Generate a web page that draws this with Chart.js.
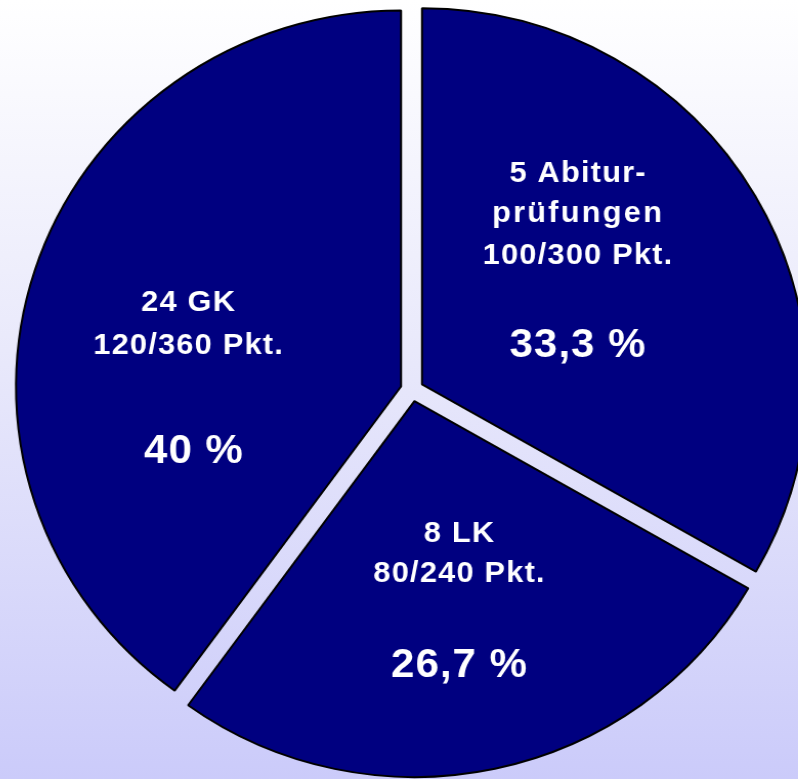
<!DOCTYPE html>
<html>
<head>
<meta charset="utf-8">
<script src="https://cdn.jsdelivr.net/npm/chart.js@4/dist/chart.umd.min.js"></script>
<style>
  html, body { margin: 0; padding: 0; width: 798px; height: 779px; overflow: hidden; }
  body { background: linear-gradient(to bottom, #ffffff 0%, #e9e9fb 45%, #cbcbfa 100%); }
  #c { display: block; transform: scaleX(1.024); transform-origin: 412px 0; }
</style>
</head>
<body>
<canvas id="c" width="798" height="779"></canvas>
<script>
// ---- data ----
const categories = ['5 Abiturprüfungen', '8 LK', '24 GK'];
const shares = [33.3, 26.7, 40];
const labelLines = [
  ['5 Abitur-', 'prüfungen', '100/300 Pkt.'],
  ['8 LK', '80/240 Pkt.'],
  ['24 GK', '120/360 Pkt.']
];
const percentLabels = ['33,3 %', '26,7 %', '40 %'];

// ---- styling / layout ----
const GAP = 11.3;
const NAVY = '#000080';

// text layout per slice: block x offset from pie centre, baselines (dy) of small lines, big line
const textLayout = [
  { dx: 161.6, small: [-208.3, -168.3, -126], spacing: ['1.2px', '2.2px', '1.2px'], bigDx: 161.6, big: -33.3 },
  { dx: 45.9, small: [151.7, 191.7], spacing: ['1.2px', '1.2px'], bigDx: 45.9, big: 286.7 },
  { dx: -218.7, small: [-79, -36], spacing: ['1.2px', '1.2px'], bigDx: -213.4, big: 72.5 }
];

const explodePlugin = {
  id: 'explode',
  beforeDatasetDraw(chart, args) {
    const ctx = chart.ctx;
    args.meta.data.forEach(arc => {
      const mid = (arc.startAngle + arc.endAngle) / 2;
      ctx.save();
      ctx.translate(Math.cos(mid) * GAP, Math.sin(mid) * GAP);
      arc.draw(ctx);
      ctx.restore();
    });
    return false;
  }
};

const labelPlugin = {
  id: 'sliceLabels',
  afterDatasetsDraw(chart) {
    const ctx = chart.ctx;
    const arc0 = chart.getDatasetMeta(0).data[0];
    const cx = arc0.x, cy = arc0.y;
    ctx.save();
    ctx.fillStyle = '#ffffff';
    ctx.textAlign = 'center';
    ctx.textBaseline = 'alphabetic';
    labelLines.forEach((lines, i) => {
      const L = textLayout[i];
      ctx.font = 'bold 30px "Liberation Sans", Arial, sans-serif';
      lines.forEach((t, j) => {
        try { ctx.letterSpacing = L.spacing[j]; } catch (e) {}
        ctx.fillText(t, cx + L.dx + 0.6, cy + L.small[j]);
      });
      ctx.font = 'bold 41px "Liberation Sans", Arial, sans-serif';
      try { ctx.letterSpacing = '1px'; } catch (e) {}
      ctx.fillText(percentLabels[i], cx + L.bigDx + 0.5, cy + L.big);
    });
    ctx.restore();
  }
};

new Chart(document.getElementById('c'), {
  type: 'pie',
  data: {
    labels: categories,
    datasets: [{
      data: shares,
      backgroundColor: NAVY,
      borderColor: '#000000',
      borderWidth: 2
    }]
  },
  options: {
    responsive: false,
    devicePixelRatio: 1,
    animation: false,
    radius: 376,
    layout: { padding: { left: 26, right: 0, top: 1, bottom: 0 } },
    plugins: {
      legend: { display: false },
      tooltip: { enabled: false },
      title: { display: false }
    }
  },
  plugins: [explodePlugin, labelPlugin]
});
</script>
</body>
</html>
